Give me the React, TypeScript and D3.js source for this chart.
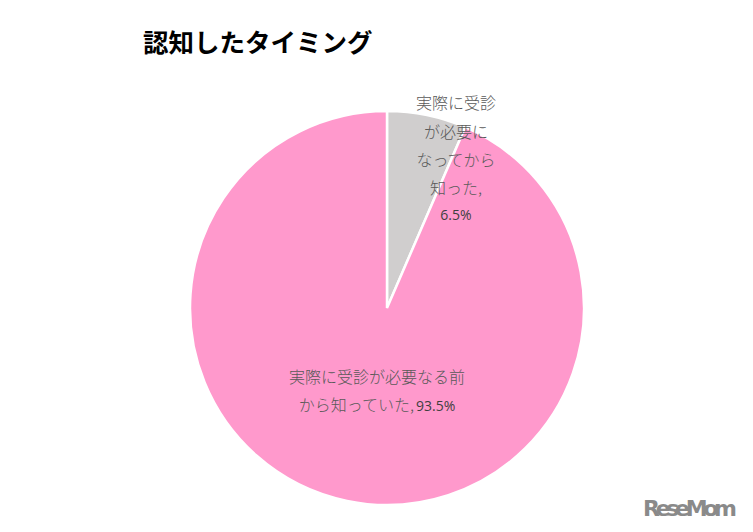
import React, { useRef, useEffect } from 'react';
import * as d3 from 'd3';

const categories = ['実際に受診が必要なる前から知っていた', '実際に受診が必要になってから知った'];
const values = [93.5, 6.5];
const colors = ['#FF99CC', '#D0CECE'];

const App: React.FC = () => {
    const svgRef = useRef<SVGSVGElement | null>(null);

    useEffect(() => {
        const svg = d3.select(svgRef.current);
        svg.selectAll('*').remove();

        const width = 753;
        const height = 532;
        const cx = 387;
        const cy = 308;
        const radius = 197;

        svg.append('rect').attr('width', width).attr('height', height).attr('fill', '#fff');

        svg.append('text')
            .attr('x', 143)
            .attr('y', 52)
            .style('font-family', '"Noto Sans CJK JP", sans-serif')
            .style('font-size', '25.5px')
            .style('font-weight', 'bold')
            .attr('fill', '#000')
            .text('認知したタイミング');

        // start at 12 o'clock, small slice clockwise, big slice after
        const pie = d3.pie<number>()
            .sort(null)
            .startAngle(0)
            .endAngle(2 * Math.PI);
        const ordered = [values[1], values[0]];
        const orderedColors = [colors[1], colors[0]];
        const arcs = pie(ordered);
        const arc = d3.arc<d3.PieArcDatum<number>>().innerRadius(0).outerRadius(radius);

        const g = svg.append('g').attr('transform', `translate(${cx},${cy})`);
        g.selectAll('path')
            .data(arcs)
            .enter()
            .append('path')
            .attr('d', arc)
            .attr('fill', (d, i) => orderedColors[i])
            .attr('stroke', '#fff')
            .attr('stroke-width', 2.5);

        const font = '"Noto Sans CJK JP", sans-serif';
        const labelColor = '#595959';
        const pctColor = '#3f3f3f';

        const small = svg.append('text')
            .attr('text-anchor', 'middle')
            .style('font-family', font)
            .style('font-size', '16px')
            .style('font-weight', 300)
            .attr('fill', labelColor);
        const smallLines = ['実際に受診', 'が必要に', 'なってから', '知った,'];
        const smallY = [109, 138, 166, 194];
        smallLines.forEach((t, i) => {
            small.append('tspan').attr('x', 456).attr('y', smallY[i]).text(t);
        });
        small.append('tspan')
            .attr('x', 456)
            .attr('y', 220)
            .style('font-family', '"Open Sans", sans-serif')
            .style('font-size', '14px')
            .style('font-weight', 'normal')
            .attr('fill', pctColor)
            .text(`${values[1]}%`);

        const big = svg.append('text')
            .attr('text-anchor', 'middle')
            .style('font-family', font)
            .style('font-size', '16px')
            .style('font-weight', 300)
            .attr('fill', labelColor);
        big.append('tspan').attr('x', 377).attr('y', 383).text('実際に受診が必要なる前');
        const l2 = big.append('tspan').attr('x', 377).attr('y', 411);
        l2.append('tspan').text('から知っていた,');
        l2.append('tspan')
            .attr('dx', 2)
            .style('font-family', '"Open Sans", sans-serif')
            .style('font-size', '14px')
            .style('font-weight', 'normal')
            .attr('fill', pctColor)
            .text(`${values[0]}%`);

        // watermark
        svg.append('text')
            .attr('x', 643)
            .attr('y', 516)
            .style('font-family', '"DejaVu Sans", sans-serif')
            .style('font-size', '22px')
            .style('font-weight', 'bold')
            .attr('fill', '#8a8a8a')
            .attr('textLength', 94)
            .text('ReseMom');
    }, []);

    return (
        <svg
            ref={svgRef}
            width={753}
            height={532}
            style={{ display: 'block', position: 'absolute', left: 0, top: 0 }}
        />
    );
};

export default App;
